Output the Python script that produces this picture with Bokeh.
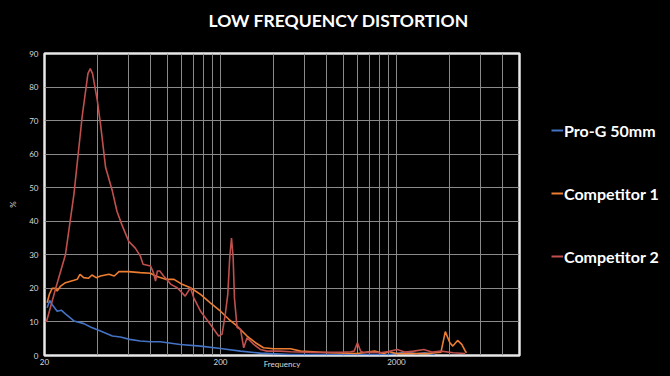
from bokeh.plotting import figure
from bokeh.layouts import row
from bokeh.models import Range1d, FixedTicker, PrintfTickFormatter, Legend, LegendItem, ColumnDataSource
from bokeh.embed import file_html
from bokeh.resources import INLINE

title = "LOW FREQUENCY DISTORTION"
series_names = ["Pro-G 50mm", "Competitor 1", "Competitor 2"]

# Pro-G 50mm
prog_freq = [20.7, 21.4, 22.1, 23.6, 24.9, 26.3, 29.4, 33.5, 36.5, 41.6, 48.6, 54, 61, 70, 80, 91,
             118, 154, 200, 260, 337, 500, 800, 1200, 1800, 2300, 2600, 2900, 3300]
prog_dist = [14.2, 16.4, 15.2, 13.2, 13.5, 12.4, 10.3, 9.5, 8.5, 7.3, 5.8, 5.5, 4.8, 4.3, 4.1, 4.1,
             3.3, 2.8, 2.1, 1.3, 0.7, 0.3, 0.3, 0.3, 0.3, 1.0, 0.5, 0.8, 0.3]

# Competitor 1
comp1_freq = [20.7, 21.3, 22.1, 23.1, 23.6, 24.7, 26.3, 29.4, 30.7, 31.8, 33.4, 35.5, 37.2, 39.3, 41.6,
              46.5, 49.8, 53, 60, 70, 80, 85.5, 97.6, 108.8, 121, 135, 154, 175, 200, 223, 248, 283,
              316, 351, 400, 500, 570, 840, 1200, 1500, 1700, 1800, 2000, 2500, 3000, 3580, 3788,
              4020, 4180, 4450, 4700, 4920, 5000]
comp1_dist = [15.7, 18.2, 20, 20, 19.2, 20.7, 21.7, 22.4, 22.7, 24.2, 23.2, 23, 24, 23.2, 23.7,
              24.2, 23.7, 25, 25, 24.7, 24.5, 23.7, 22.7, 22.7, 21.2, 20.2, 18.2, 15.7, 13.2, 10.8, 8.8, 5.8,
              3.8, 2.3, 2.0, 2.0, 1.3, 0.8, 0.6, 1.3, 0.6, 1.2, 0.6, 0.6, 0.6, 1.0, 7.1,
              3.8, 2.8, 4.5, 3.3, 1.3, 0.8]

# Competitor 2
comp2_freq = [20.5, 23.1, 26.3, 29.4, 32.7, 35.3, 36.4, 37.5, 39.9, 41.6, 44.5, 48.6, 51.6, 55, 60.2,
              65.6, 70, 72.6, 80, 83.2, 85.5, 87.6, 90.4, 95, 99, 104.4, 113.5, 126, 135, 141, 154,
              175, 195, 204, 213, 220, 225.7, 231, 236, 240, 248.5, 260, 271, 283, 309, 337, 368,
              437, 500, 700, 1000, 1100, 1150, 1200, 1250, 1300, 1450, 1620, 1800, 2020, 2250,
              2510, 2860, 3200, 3580, 4200, 4920]
comp2_dist = [10.0, 19.8, 30.0, 48.1, 71, 84, 85.5, 84, 76, 69, 56, 49, 43, 39, 34,
              32, 29.7, 27.2, 26.7, 24.7, 22.2, 25.2, 25.2, 23.7, 22.7, 21.2, 20.2, 17.7, 20.2, 17.2, 13.2,
              9.3, 5.8, 6.3, 12.3, 18.2, 29.2, 35, 29.2, 17.2, 8.3, 7.8, 2.3, 5.3, 3.3, 1.8, 1.3,
              1.3, 1.1, 0.9, 1.0, 1.1, 1.3, 3.8, 1.3, 0.9, 1.0, 0.8, 1.2, 1.8, 1.0,
              1.3, 1.8, 1.0, 1.3, 0.8, 0.6]

x_tick_labels = [20, 200, 2000]
x_grid_values = [40, 60, 80, 100, 120, 140, 160, 180, 200, 400, 600, 800, 1000, 1200, 1400,
                 1600, 1800, 2000, 4000, 6000, 8000]
y_ticks = [0, 10, 20, 30, 40, 50, 60, 70, 80, 90]

colors = ["#4472C4", "#ED7D31", "#C0504D"]

p = figure(width=522, height=376, x_axis_type="log",
           x_range=Range1d(20, 10000), y_range=Range1d(0, 90),
           output_backend="svg", toolbar_location=None,
           min_border_left=44, min_border_right=3, min_border_top=53, min_border_bottom=21,
           background_fill_color="black", border_fill_color="black",
           outline_line_color="#e8e8e8", outline_line_width=2.5)

p.title.text = title
p.title.align = "left"
p.title.text_color = "white"
p.title.text_font = "Lato"
p.title.text_font_style = "bold"
p.title.text_font_size = "17.5px"
p.title.offset = 164
p.title.standoff = 10
p.title.padding = dict(top=0, right=0, bottom=18, left=0)

p.xaxis.ticker = FixedTicker(ticks=x_tick_labels, minor_ticks=[])
p.xaxis.formatter = PrintfTickFormatter(format="%d")
p.xgrid.ticker = FixedTicker(ticks=x_grid_values, minor_ticks=[])
p.yaxis.ticker = FixedTicker(ticks=y_ticks, minor_ticks=[])
p.ygrid.ticker = FixedTicker(ticks=y_ticks, minor_ticks=[])

for g in (p.xgrid, p.ygrid):
    g.grid_line_color = "#8a8a8a"
    g.grid_line_width = 1

for ax in (p.xaxis, p.yaxis):
    ax.axis_line_color = None
    ax.major_tick_line_color = None
    ax.minor_tick_line_color = None
    ax.major_label_text_color = "#d9d9d9"
    ax.major_label_text_font = "Lato"
    ax.major_label_text_font_size = "8px"
    ax.axis_label_text_color = "#d9d9d9"
    ax.axis_label_text_font = "Lato"
    ax.axis_label_text_font_size = "8px"
    ax.axis_label_text_font_style = "normal"

p.xaxis.axis_label = "Frequency"
p.yaxis.axis_label = "%"
p.xaxis.major_label_standoff = -3
p.xaxis.axis_label_standoff = -9
p.yaxis.major_label_standoff = 0
p.yaxis.axis_label_standoff = 8

sources = []
for fr, dv, c in ((prog_freq, prog_dist, colors[0]),
                  (comp1_freq, comp1_dist, colors[1]),
                  (comp2_freq, comp2_dist, colors[2])):
    src = ColumnDataSource(dict(f=fr, d=dv))
    sources.append(src)
    p.line("f", "d", source=src, line_color=c, line_width=1.6)

# legend panel to the right of the chart (its own ranges keep the series out of view)
q = figure(width=148, height=376, output_backend="svg", toolbar_location=None,
           x_range=Range1d(0, 1), y_range=Range1d(-1, 0),
           x_axis_location=None, y_axis_location=None,
           min_border_left=0, min_border_right=0, min_border_top=53, min_border_bottom=21,
           background_fill_color="black", border_fill_color="black")
q.outline_line_color = "black"
q.outline_line_width = 3
q.xgrid.visible = False
q.ygrid.visible = False
proxies = [q.line("f", "d", source=s, line_color=c, line_width=2) for s, c in zip(sources, colors)]

legend = Legend(items=[LegendItem(label=n, renderers=[r]) for n, r in zip(series_names, proxies)],
                location=(29, 89), orientation="vertical", spacing=43,
                glyph_width=12, glyph_height=20, label_height=20, label_standoff=1,
                padding=0, margin=0, border_line_color=None, background_fill_alpha=0,
                label_text_color="white", label_text_font="Lato", label_text_font_style="bold",
                label_text_font_size="16px")
q.add_layout(legend)

layout = row(p, q, spacing=0)
html = file_html(layout, INLINE)
html = html.replace("<head>", "<head><style>html, body { background: #000; margin: 0; }</style>", 1)
open("out.html", "w").write(html)
